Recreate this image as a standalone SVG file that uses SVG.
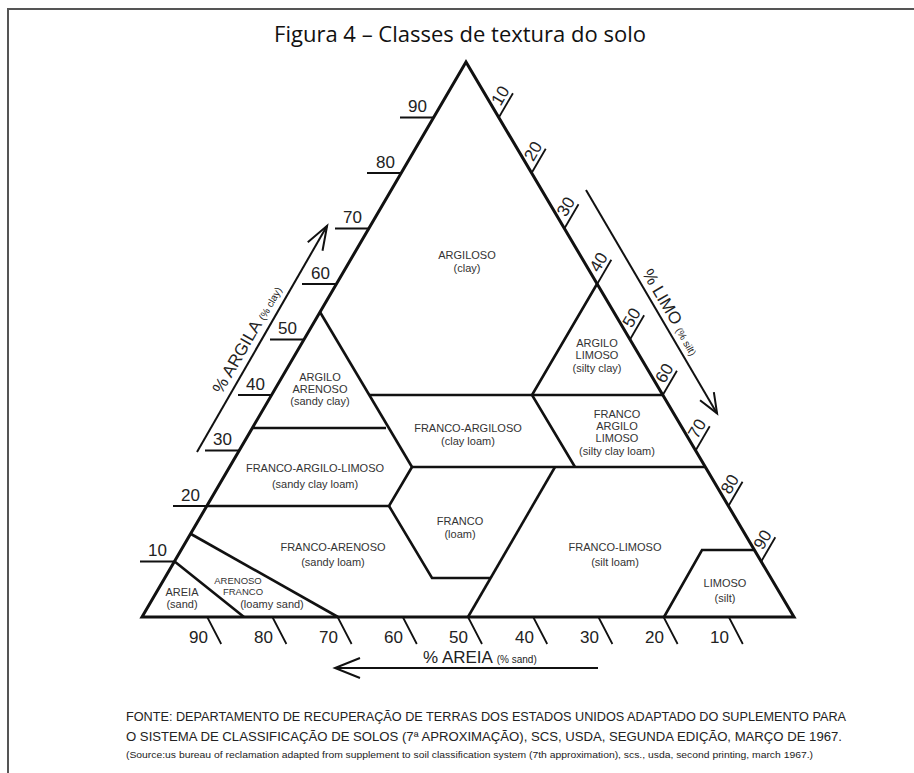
<svg xmlns="http://www.w3.org/2000/svg" width="914" height="773" viewBox="0 0 914 773">
<style>
.frame{stroke:#555;stroke-width:2;fill:none}
.edge{stroke:#111;stroke-width:3;fill:none;stroke-linejoin:miter}
.bd{stroke:#111;stroke-width:2.6;fill:none;stroke-linejoin:miter}
.tick{stroke:#111;stroke-width:1.8;fill:none}
.arr{stroke:#111;stroke-width:2;fill:none}
.lbl{font-family:"Liberation Sans",Arial,sans-serif;font-size:11px;fill:#333;text-anchor:middle}
.sm{font-size:9.5px}
.num{font-family:"Liberation Sans",Arial,sans-serif;font-size:17px;fill:#222}
.rn{text-anchor:end}
.ax{font-family:"Liberation Sans",Arial,sans-serif;font-size:17px;fill:#222}
.axs{font-size:10px}
.title{font-family:"Open Sans","Noto Sans",sans-serif;font-size:22px;fill:#111;text-anchor:middle}
.foot{font-family:"Liberation Sans",Arial,sans-serif;fill:#222}
</style>
<rect x="0" y="0" width="914" height="773" fill="#fff"/>
<path class="frame" d="M8,773 V9 H914"/>
<text id="title" class="title" x="460" y="42">Figura 4 – Classes de textura do solo</text>

<g id="connectors">
  <path class="edge" d="M466,62 L142,617 L794,617 Z"/>
  <path class="bd" d="M320,312 L412,467"/>
  <path class="bd" d="M253,428 L386,428"/>
  <path class="bd" d="M369,395 L663,395"/>
  <path class="bd" d="M597,284 L532,395 L575,467"/>
  <path class="bd" d="M412,467 L705,467"/>
  <path class="bd" d="M412,467 L389,506 L207,506"/>
  <path class="bd" d="M389,506 L432,578 L491,578"/>
  <path class="bd" d="M555,467 L468,617"/>
  <path class="bd" d="M191,534 L338,617"/>
  <path class="bd" d="M174,561 L244,617"/>
  <path class="bd" d="M755,550 L702,550 L664,617"/>
</g>

<g id="clay-axis">
  <path class="tick" d="M140,561.5H174.4M173,506H206.8M205,450.5H239.2M238,395H271.6M270,339.5H304M302,284H336.4M335,228.5H368.8M367,173H401.2M400,117.5H433.6"/>
  <g class="num" text-anchor="end">
    <text x="167" y="556">10</text>
    <text x="200" y="501">20</text>
    <text x="232" y="445">30</text>
    <text x="265" y="390">40</text>
    <text x="297" y="334">50</text>
    <text x="330" y="279">60</text>
    <text x="362" y="223">70</text>
    <text x="395" y="168">80</text>
    <text x="427" y="112">90</text>
  </g>
  <g transform="translate(197,452) rotate(-60.1)">
    <line class="arr" x1="0" y1="0" x2="261" y2="0"/>
    <polyline class="arr" points="237,-8.5 261,0 237,8.5"/>
    <text class="ax" x="62" y="-7">% ARGILA <tspan class="axs">(% clay)</tspan></text>
  </g>
</g>

<g id="silt-axis">
  <g transform="translate(498.8,117.5) rotate(-59.7)"><line class="tick" x1="0" y1="0" x2="28" y2="0"/><text class="num rn" x="29" y="-4">10</text></g>
  <g transform="translate(531.6,173) rotate(-59.7)"><line class="tick" x1="0" y1="0" x2="28" y2="0"/><text class="num rn" x="29" y="-4">20</text></g>
  <g transform="translate(564.4,228.5) rotate(-59.7)"><line class="tick" x1="0" y1="0" x2="28" y2="0"/><text class="num rn" x="29" y="-4">30</text></g>
  <g transform="translate(597.2,284) rotate(-59.7)"><line class="tick" x1="0" y1="0" x2="28" y2="0"/><text class="num rn" x="29" y="-4">40</text></g>
  <g transform="translate(630,339.5) rotate(-59.7)"><line class="tick" x1="0" y1="0" x2="28" y2="0"/><text class="num rn" x="29" y="-4">50</text></g>
  <g transform="translate(662.8,395) rotate(-59.7)"><line class="tick" x1="0" y1="0" x2="28" y2="0"/><text class="num rn" x="29" y="-4">60</text></g>
  <g transform="translate(695.6,450.5) rotate(-59.7)"><line class="tick" x1="0" y1="0" x2="28" y2="0"/><text class="num rn" x="29" y="-4">70</text></g>
  <g transform="translate(728.4,506) rotate(-59.7)"><line class="tick" x1="0" y1="0" x2="28" y2="0"/><text class="num rn" x="29" y="-4">80</text></g>
  <g transform="translate(761.2,561.5) rotate(-59.7)"><line class="tick" x1="0" y1="0" x2="28" y2="0"/><text class="num rn" x="29" y="-4">90</text></g>
  <g transform="translate(586,190) rotate(59.6)">
    <line class="arr" x1="0" y1="0" x2="259" y2="0"/>
    <polyline class="arr" points="239,-8 259,0 239,8"/>
    <text class="ax" x="100" y="-6">% LIMO <tspan class="axs">(% silt)</tspan></text>
  </g>
</g>

<g id="sand-axis">
  <path class="tick" d="M207.2,617l14,27M272.4,617l14,27M337.6,617l14,27M402.8,617l14,27M468,617l14,27M533.2,617l14,27M598.4,617l14,27M663.6,617l14,27M728.8,617l14,27"/>
  <g class="num" text-anchor="end">
    <text x="208" y="643">90</text>
    <text x="273" y="643">80</text>
    <text x="338" y="643">70</text>
    <text x="403" y="643">60</text>
    <text x="468" y="643">50</text>
    <text x="534" y="643">40</text>
    <text x="599" y="643">30</text>
    <text x="664" y="643">20</text>
    <text x="729" y="643">10</text>
  </g>
  <line class="arr" x1="335" y1="668" x2="598" y2="668"/>
  <polyline class="arr" points="360,658 335,668 360,678"/>
  <text class="ax" x="423" y="663" font-size="18">% AREIA <tspan class="axs">(% sand)</tspan></text>
</g>

<g id="argiloso"><text class="lbl" x="467" y="259">ARGILOSO</text><text class="lbl" x="467" y="272">(clay)</text></g>
<g id="argilo-arenoso"><text class="lbl" x="320" y="381">ARGILO</text><text class="lbl" x="320" y="393">ARENOSO</text><text class="lbl" x="320" y="405">(sandy clay)</text></g>
<g id="argilo-limoso"><text class="lbl" x="597" y="347">ARGILO</text><text class="lbl" x="597" y="359">LIMOSO</text><text class="lbl" x="597" y="372">(silty clay)</text></g>
<g id="franco-argiloso"><text class="lbl" x="468" y="432">FRANCO-ARGILOSO</text><text class="lbl" x="468" y="445">(clay loam)</text></g>
<g id="franco-argilo-limoso-silty"><text class="lbl" x="617" y="418">FRANCO</text><text class="lbl" x="617" y="430">ARGILO</text><text class="lbl" x="617" y="442">LIMOSO</text><text class="lbl" x="617" y="455">(silty clay loam)</text></g>
<g id="franco-argilo-limoso-sandy"><text class="lbl" x="315" y="472">FRANCO-ARGILO-LIMOSO</text><text class="lbl" x="315" y="488">(sandy clay loam)</text></g>
<g id="franco"><text class="lbl" x="460" y="525">FRANCO</text><text class="lbl" x="460" y="538">(loam)</text></g>
<g id="franco-arenoso"><text class="lbl" x="333" y="551">FRANCO-ARENOSO</text><text class="lbl" x="333" y="566">(sandy loam)</text></g>
<g id="franco-limoso"><text class="lbl" x="615" y="551">FRANCO-LIMOSO</text><text class="lbl" x="615" y="566">(silt loam)</text></g>
<g id="areia"><text class="lbl" x="182" y="596">AREIA</text><text class="lbl" x="182" y="608">(sand)</text></g>
<g id="arenoso-franco"><text class="lbl sm" x="238" y="584">ARENOSO</text><text class="lbl sm" x="243" y="595">FRANCO</text><text class="lbl" x="272" y="608">(loamy sand)</text></g>
<g id="limoso"><text class="lbl" x="725" y="587">LIMOSO</text><text class="lbl" x="725" y="602">(silt)</text></g>

<g id="footer">
  <text class="foot" x="126" y="721" font-size="12" textLength="720" lengthAdjust="spacingAndGlyphs">FONTE: DEPARTAMENTO DE RECUPERAÇÃO DE TERRAS DOS ESTADOS UNIDOS ADAPTADO DO SUPLEMENTO PARA</text>
  <text class="foot" x="126" y="741" font-size="12" textLength="716" lengthAdjust="spacingAndGlyphs">O SISTEMA DE CLASSIFICAÇÃO DE SOLOS (7ª APROXIMAÇÃO), SCS, USDA, SEGUNDA EDIÇÃO, MARÇO DE 1967.</text>
  <text class="foot" x="126" y="758" font-size="9.5" textLength="687" lengthAdjust="spacingAndGlyphs">(Source:us bureau of reclamation adapted from supplement to soil classification system (7th approximation), scs., usda, second printing, march 1967.)</text>
</g>
</svg>
